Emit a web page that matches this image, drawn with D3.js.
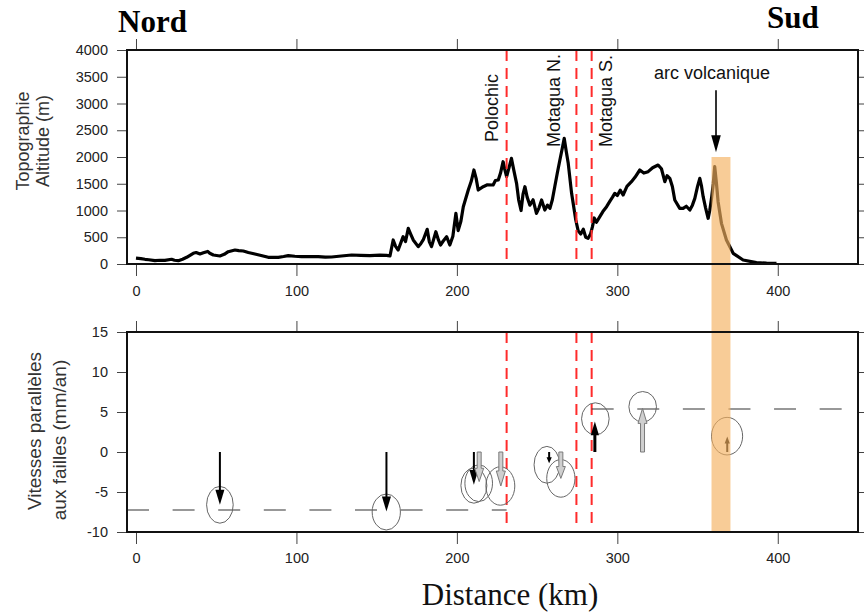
<!DOCTYPE html>
<html lang="fr">
  <head>
    <meta charset="utf-8" />
    <script src="https://cdn.jsdelivr.net/npm/d3@7"></script>
    <style>
      body { margin: 0; background: #fff; }
      svg text { font-family: "Liberation Sans", Arial, Helvetica, sans-serif; }
      .tick line { stroke: #444; }
      .tick text { font-size: 14.5px; fill: #222; }
    </style>
  </head>
  <body>
    <div id="chart"></div>
    <script>
      // profil topographique (km, m)
      var profileKm = [0, 3, 5.6, 8, 11.8, 15, 18, 22.2, 24, 26.4, 29, 31.6, 35.7, 37.5, 39.9, 42, 44.7, 46,
        48.2, 52.3, 55, 57.5, 61.7, 64, 66.9, 70, 74.1, 78, 82.4, 88.7, 92, 94.9, 99, 103.2, 108, 113.6, 118,
        121.9, 128, 134.4, 140, 145.8, 152, 156.2, 158.3, 160.3, 161.8, 163.4, 166.5, 168, 169.7, 171.2, 172.8,
        175.9, 177.5, 179, 181.5, 182.8, 184.2, 186.9, 188.5, 189.8, 191.5, 193.6, 195.6, 197.5, 199.4, 200.8,
        202.5, 204, 207.1, 209, 210.6, 212, 213.3, 216.4, 219, 222.6, 224, 225.8, 227.2, 228.8, 230, 231, 232.5,
        234, 235.5, 237.2, 238.5, 240, 241.2, 242.4, 243.8, 245.5, 247.5, 249.6, 251.2, 252.8, 254.8, 256.5,
        258, 259.5, 261, 262.6, 264.2, 265.6, 266.9, 268.2, 269.4, 271.5, 274.1, 275.6, 277.2, 278.8, 280.3,
        281.8, 283.3, 284.5, 285.6, 287, 289.1, 291, 293.3, 295.5, 297, 298.4, 300, 301.8, 303.6, 306, 308.8,
        311, 314, 316.5, 319.2, 322, 325.4, 327.5, 329.6, 331, 332.7, 334.3, 335.8, 338.9, 341, 343, 345.2,
        346.8, 348.3, 350, 351.4, 352.5, 353.5, 355, 356.6, 357.6, 358.7, 359.8, 360.7, 361.8, 362.8, 364.9,
        368, 372.2, 378.4, 386.7, 393, 399.2];
      var profileAlt = [110, 100, 88, 80, 62, 70, 69, 88, 70, 62, 90, 125, 200, 215, 187, 210, 235, 200,
        168, 150, 180, 230, 262, 250, 243, 215, 187, 160, 125, 125, 140, 156, 145, 137, 140, 137, 128,
        131, 150, 168, 162, 156, 165, 162, 150, 449, 330, 262, 511, 420, 667, 560, 449,
        324, 380, 449, 648, 420, 324, 604, 450, 355, 430, 511, 355, 520, 947, 623,
        800, 1071, 1383, 1550, 1757, 1600, 1383, 1445, 1480, 1477, 1560, 1570, 1700, 1912, 1750, 1632, 1800,
        1975, 1750, 1508, 1200, 1000, 1300, 1445, 1250, 1100, 1200, 947, 1050, 1196, 1009, 1100,
        1040, 1200, 1445, 1700, 1944, 2150, 2349, 2100, 1882, 1321, 822, 620, 560, 650, 500,
        480, 560, 698, 860, 780, 885, 980, 1071, 1180, 1250, 1321, 1280, 1380, 1290, 1450, 1539,
        1620, 1757, 1700, 1726, 1800, 1850, 1780, 1539, 1650, 1601, 1450, 1196, 1040, 1040, 1080, 1009,
        1100, 1227, 1450, 1601, 1450, 1258, 1050, 854, 1000, 1227, 1500, 1819, 1500, 1165, 760,
        449, 200, 75, 25, 15, 12];

      // failles
      var faultNames = ["Polochic", "Motagua N.", "Motagua S."];
      var faultKm = [231, 274.5, 284];

      // stations GPS : vitesses parallèles aux failles (mm/an)
      var siteKm = [52.3, 156.1, 210.6, 213.9, 227.4, 257.5, 264.8, 286, 315.7, 368.5];
      var siteVel = [-6.6, -7.45, -4.1, -3.7, -4.25, -1.4, -3.3, 3.8, 5.45, 1.95];
      var ellKm = [52.3, 156.0, 210.6, 213.6, 227.1, 256.1, 264.8, 286.3, 315.8, 368.4];
      var ellVel = [-6.6, -7.5, -4.2, -3.9, -4.25, -1.6, -3.3, 4.15, 5.66, 1.98];
      var sigKm = [8.3, 8.8, 8.1, 8.6, 9.0, 8.0, 8.8, 8.6, 8.6, 9.7];
      var sigVel = [2.3, 2.25, 2.2, 2.3, 2.4, 2.3, 2.35, 2.0, 1.9, 2.35];
      var siteStyle = ["black", "black", "black", "gray", "gray", "black", "gray", "black", "gray", "black"];

      // vitesses moyennes de part et d'autre
      var refFrom = [-5.6, 284];
      var refTo = [231, 450];
      var refVel = [-7.25, 5.375];

      // arc volcanique
      var arcBand = [358.7, 370.5];
      var arcKm = 361.5;

      var xTicks = [0, 100, 200, 300, 400];
      var altTicks = [0, 500, 1000, 1500, 2000, 2500, 3000, 3500, 4000];
      var velTicks = [-10, -5, 0, 5, 10, 15];

      var width = 864, height = 613;
      var left = 127, right = 858;
      var top1 = 50, bot1 = 264, top2 = 332, bot2 = 532;

      var x = d3.scaleLinear().domain([-5.6, 450]).range([left, right]);
      var yAlt = d3.scaleLinear().domain([0, 4000]).range([bot1, top1]);
      var yVel = d3.scaleLinear().domain([-10, 15]).range([bot2, top2]);

      var svg = d3.select("#chart").append("svg")
        .attr("width", width).attr("height", height);

      function drawAxes(y, ticks, top, bot, pad) {
        svg.append("g").attr("transform", "translate(0," + bot + ")")
          .call(d3.axisBottom(x).tickValues(xTicks).tickSize(12).tickPadding(pad).tickFormat(d3.format("d")))
          .call(g => g.select(".domain").remove());
        svg.append("g").attr("transform", "translate(0," + top + ")")
          .call(d3.axisTop(x).tickValues(xTicks).tickSize(11).tickFormat(""))
          .call(g => g.select(".domain").remove());
        svg.append("g").attr("transform", "translate(" + left + ",0)")
          .call(d3.axisLeft(y).tickValues(ticks).tickSize(10).tickPadding(9).tickFormat(d => String(d)))
          .call(g => g.select(".domain").remove());
        svg.append("g").attr("transform", "translate(" + right + ",0)")
          .call(d3.axisRight(y).tickValues(ticks).tickSize(6).tickFormat(""))
          .call(g => g.select(".domain").remove());
      }
      drawAxes(yAlt, altTicks, top1, bot1, 10);
      drawAxes(yVel, velTicks, top2, bot2, 9);

      // profil
      var line = d3.line().x((d, i) => x(profileKm[i])).y(d => yAlt(d));
      svg.append("path").datum(profileAlt)
        .attr("d", line)
        .attr("fill", "none")
        .attr("stroke", "#000")
        .attr("stroke-width", 3.2)
        .attr("stroke-linejoin", "round");

      // failles : tirets rouges
      faultKm.forEach(function (k) {
        svg.append("line").attr("x1", x(k)).attr("x2", x(k))
          .attr("y1", yAlt(4000)).attr("y2", yAlt(0))
          .attr("stroke", "#ff2b2b").attr("stroke-width", 2).attr("stroke-dasharray", "11,7");
        svg.append("line").attr("x1", x(k)).attr("x2", x(k))
          .attr("y1", yVel(15)).attr("y2", yVel(-8.9))
          .attr("stroke", "#ff2b2b").attr("stroke-width", 2).attr("stroke-dasharray", "11,7");
      });

      var labelPos = [[498, 142], [560, 147], [612, 147]];
      faultNames.forEach(function (n, i) {
        svg.append("text")
          .attr("transform", "translate(" + labelPos[i][0] + "," + labelPos[i][1] + ") rotate(-90)")
          .attr("font-size", 18).attr("fill", "#111")
          .text(n);
      });

      // moyennes
      refVel.forEach(function (v, i) {
        svg.append("line").attr("x1", x(refFrom[i])).attr("x2", x(refTo[i]))
          .attr("y1", yVel(v)).attr("y2", yVel(v))
          .attr("stroke", "#333").attr("stroke-width", 1.1).attr("stroke-dasharray", "22,23.6");
      });

      // ellipses d'erreur
      svg.append("g").selectAll("ellipse").data(siteKm).enter().append("ellipse")
        .attr("cx", (d, i) => x(ellKm[i]))
        .attr("cy", (d, i) => yVel(ellVel[i]))
        .attr("rx", (d, i) => x(sigKm[i]) - x(0))
        .attr("ry", (d, i) => yVel(0) - yVel(sigVel[i]))
        .attr("fill", "none").attr("stroke", "#666").attr("stroke-width", 1);

      // flèches
      siteKm.forEach(function (k, i) {
        var cx = x(k), y0 = yVel(0), y1 = yVel(siteVel[i]);
        var s = Math.sign(y1 - y0), len = Math.abs(y1 - y0);
        var hl = Math.max(6, Math.min(15, len * 0.45)), hw = Math.max(2.6, hl * 0.3);
        if (siteStyle[i] === "black") {
          svg.append("line").attr("x1", cx).attr("x2", cx)
            .attr("y1", y0).attr("y2", y1 - s * hl * 0.8)
            .attr("stroke", "#000").attr("stroke-width", len > 25 && s < 0 ? 3 : 2);
          svg.append("path")
            .attr("d", "M" + cx + "," + y1 + "L" + (cx - hw) + "," + (y1 - s * hl) +
              "L" + (cx + hw) + "," + (y1 - s * hl) + "Z")
            .attr("fill", "#000");
        } else {
          var sw = 2, hw2 = Math.max(hw, 4.5), yb = y1 - s * hl;
          svg.append("path")
            .attr("d", "M" + (cx - sw) + "," + y0 + "L" + (cx - sw) + "," + yb + "L" + (cx - hw2) + "," + yb +
              "L" + cx + "," + y1 + "L" + (cx + hw2) + "," + yb + "L" + (cx + sw) + "," + yb +
              "L" + (cx + sw) + "," + y0 + "Z")
            .attr("fill", "#cfcfcf").attr("stroke", "#7a7a7a").attr("stroke-width", 1);
        }
      });

      // bande arc volcanique
      svg.append("rect")
        .attr("x", x(arcBand[0])).attr("width", x(arcBand[1]) - x(arcBand[0]))
        .attr("y", yAlt(2000)).attr("height", yVel(-10) - yAlt(2000))
        .attr("fill", "#f5b060").attr("opacity", 0.65);

      // cadres
      [[top1, bot1], [top2, bot2]].forEach(function (p) {
        svg.append("rect").attr("x", left).attr("y", p[0])
          .attr("width", right - left).attr("height", p[1] - p[0])
          .attr("fill", "none").attr("stroke", "#111").attr("stroke-width", 2);
      });

      // annotation arc volcanique
      var ax = x(arcKm), ayTop = yAlt(3250), ayTip = yAlt(2090);
      svg.append("line").attr("x1", ax).attr("x2", ax).attr("y1", ayTop).attr("y2", ayTip - 14)
        .attr("stroke", "#000").attr("stroke-width", 1.6);
      svg.append("path")
        .attr("d", "M" + ax + "," + ayTip + "L" + (ax - 4.8) + "," + (ayTip - 17) + "L" + (ax + 4.8) + "," + (ayTip - 17) + "Z")
        .attr("fill", "#000");
      svg.append("text").attr("x", 712).attr("y", 79)
        .attr("text-anchor", "middle").attr("font-size", 18).attr("fill", "#111")
        .text("arc volcanique");

      // titres des axes
      function vtitle(lines, xs, yc, size) {
        lines.forEach(function (t, i) {
          svg.append("text")
            .attr("transform", "translate(" + xs[i] + "," + yc[i] + ") rotate(-90)")
            .attr("text-anchor", "middle").attr("font-size", size).attr("fill", "#333")
            .text(t);
        });
      }
      vtitle(["Topographie", "Altitude (m)"], [28.5, 48.5], [141, 141], 18);
      vtitle(["Vitesses parallèles", "aux failles (mm/an)"], [40.5, 66], [431, 440], 19);

      svg.append("text").attr("x", 510).attr("y", 605)
        .attr("text-anchor", "middle")
        .style("font-family", "'Liberation Serif', 'Times New Roman', serif")
        .attr("font-size", 31).attr("fill", "#111")
        .text("Distance (km)");

      svg.append("text").attr("x", 118).attr("y", 31.5)
        .style("font-family", "'Liberation Serif', 'Times New Roman', serif")
        .attr("font-weight", "bold").attr("font-size", 31)
        .text("Nord");
      svg.append("text").attr("x", 767).attr("y", 28)
        .style("font-family", "'Liberation Serif', 'Times New Roman', serif")
        .attr("font-weight", "bold").attr("font-size", 31)
        .text("Sud");
    </script>
  </body>
</html>
